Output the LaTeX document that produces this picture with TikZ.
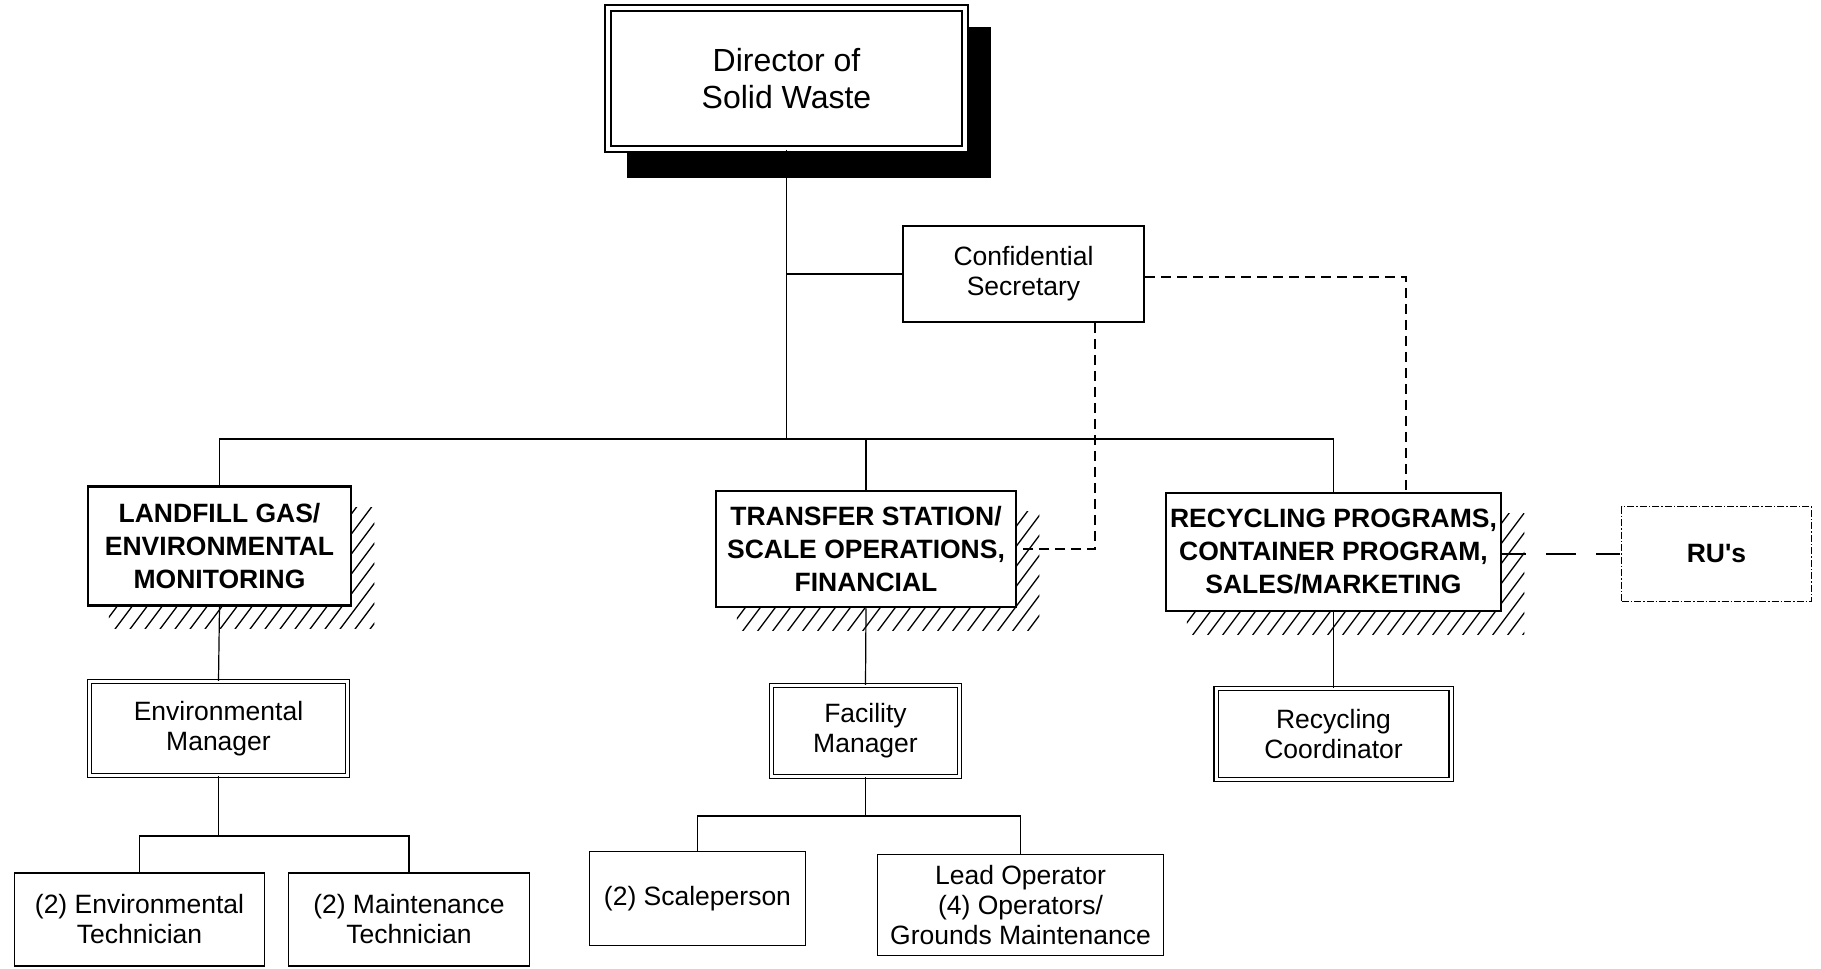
\documentclass[tikz,border=0pt]{standalone}
\usepackage{fontspec}
\setmainfont{Liberation Sans}
\usetikzlibrary{calc}
\pgfdeclarelayer{background}
\pgfsetlayers{background,main}
\newcommand{\hatchunder}[1]{%
  \begin{scope}
    \clip ($(#1.north west)+(22,22)$) rectangle ($(#1.south east)+(22,22)$);
    \foreach \k in {0,...,45} {\draw[hatch] ($(#1.south west)+(\k*15-150,40)$) -- ++(150,-200);}
  \end{scope}}
\begin{document}
\begin{tikzpicture}[x=1pt,y=-1pt,
  every node/.style={align=center, inner sep=0pt},
  regfont/.style={font=\fontsize{26.5}{30}\selectfont},
  boldfont/.style={font=\bfseries\fontsize{26.5}{33}\selectfont},
  dirbox/.style={draw, fill=white, double, line width=1.5pt, double distance=4.5pt, font=\fontsize{32}{37}\selectfont},
  bbox/.style={draw, fill=white, line width=2.5pt, boldfont},
  dbox/.style={draw, fill=white, double, line width=1.2pt, double distance=3pt, regfont},
  rbox/.style={draw, fill=white, line width=1.5pt, regfont},
  rubox/.style={draw, fill=white, line width=1.2pt, dash pattern=on 7pt off 2pt on 1.5pt off 2pt, boldfont},
  conn/.style={line width=1.2pt},
  dashconn/.style={line width=1.2pt, dash pattern=on 10pt off 6pt},
  ruconn/.style={line width=1.4pt, dash pattern=on 24pt off 20pt on 30pt off 20pt},
  hatch/.style={line width=1.3pt},
  shadowfill/.style={fill=black}]
\useasboundingbox (0,0) rectangle (1821,969);

% nodes
\node[dirbox, minimum width=357pt, minimum height=141pt] (dir) at (786.5,78.5) {Director of\\Solid Waste};
\node[rbox, minimum width=241pt, minimum height=96pt] (sec) at (1023.5,274) {Confidential\\Secretary};

\node[bbox, minimum width=263pt, minimum height=119pt] (land) at (219.5,546) {LANDFILL GAS/\\ENVIRONMENTAL\\MONITORING};
\node[bbox, minimum width=300pt, minimum height=116pt] (trans) at (866,549) {TRANSFER STATION/\\SCALE OPERATIONS,\\FINANCIAL};
\node[bbox, minimum width=335pt, minimum height=118pt] (recy) at (1333.5,552) {RECYCLING PROGRAMS,\\CONTAINER PROGRAM,\\SALES/MARKETING};
\node[rubox, minimum width=190pt, minimum height=95pt] (ru) at (1716.5,554) {RU\textquotesingle s};

\node[dbox, minimum width=258pt, minimum height=94pt] (envmgr) at (218.5,728.5) {Environmental\\Manager};
\node[dbox, minimum width=188pt, minimum height=91pt] (facmgr) at (865.5,731) {Facility\\Manager};
\node[dbox, minimum width=235pt, minimum height=91pt] (reccoord) at (1333.5,734) {Recycling\\Coordinator};

\node[rbox, minimum width=250pt, minimum height=93pt] (envtech) at (139.5,919.5) {(2) Environmental\\Technician};
\node[rbox, minimum width=241pt, minimum height=93pt] (mainttech) at (409,919.5) {(2) Maintenance\\Technician};
\node[rbox, minimum width=216pt, minimum height=94pt] (scale) at (697.5,898.5) {(2) Scaleperson};
\node[rbox, minimum width=286pt, minimum height=101pt] (leadop) at (1020.5,905) {Lead Operator\\(4) Operators/\\Grounds Maintenance};

% junction coordinates
\coordinate (bus) at (786.5,439);
\coordinate (envbus) at (218.5,836);
\coordinate (facbus) at (865.5,816);
\coordinate (d1) at (1406,277);
\coordinate (d2) at (1095,549);

% background: shadow and hatching
\begin{pgfonlayer}{background}
  \fill[shadowfill] ($(dir.north west)+(20,20)$) rectangle ($(dir.south east)+(25,28)$);
  \hatchunder{land}
  \hatchunder{trans}
  \hatchunder{recy}
\end{pgfonlayer}

% solid connectors
\draw[conn] (dir.south) -- (bus);
\draw[conn] (sec.west) -- (sec.west -| bus);
\draw[conn] (land.north) -- (land.north |- bus) -- (recy.north |- bus) -- (recy.north);
\draw[conn] (trans.north) -- (trans.north |- bus);
\draw[conn] (land.south) -- (envmgr.north);
\draw[conn] (envmgr.south) -- (envbus);
\draw[conn] (envtech.north) -- (envtech.north |- envbus) -- (mainttech.north |- envbus) -- (mainttech.north);
\draw[conn] (trans.south) -- (facmgr.north);
\draw[conn] (facmgr.south) -- (facbus);
\draw[conn] (scale.north) -- (scale.north |- facbus) -- (leadop.north |- facbus) -- (leadop.north);
\draw[conn] (recy.south) -- (reccoord.north);

% dashed connectors
\draw[dashconn] (sec.east |- d1) -- (d1) -- (d1 |- recy.north);
\draw[dashconn] (sec.south -| d2) -- (d2) -- (d2 -| trans.east);
\draw[ruconn] (ru.west -| recy.east) -- (ru.west);
\end{tikzpicture}
\end{document}
